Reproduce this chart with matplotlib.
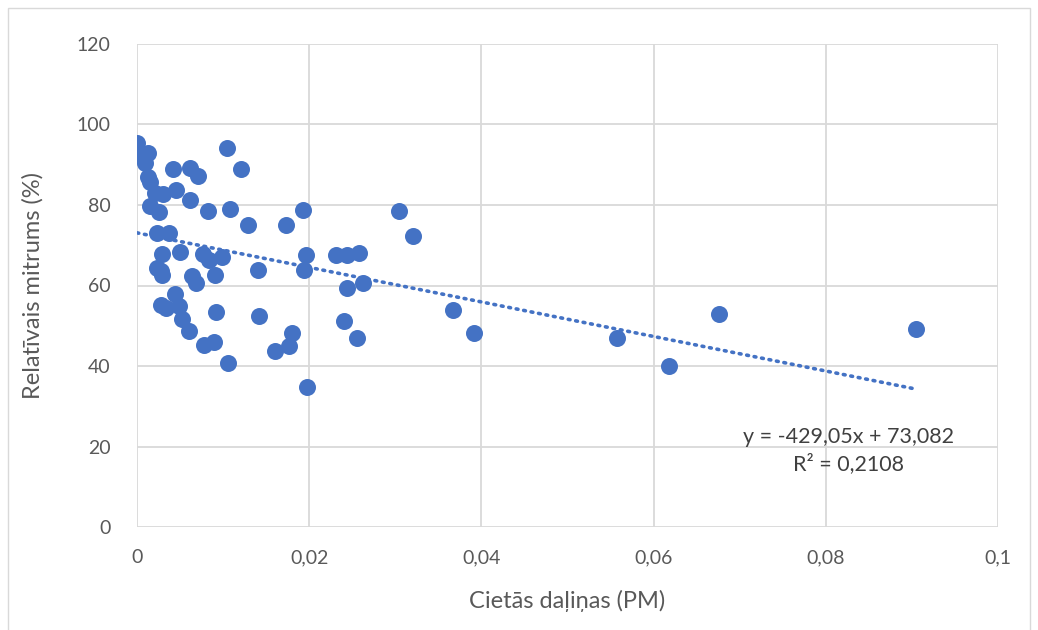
import numpy as np
import matplotlib.pyplot as plt
from matplotlib.ticker import FuncFormatter, MultipleLocator
from matplotlib.patches import Rectangle

plt.rcParams['font.family'] = ['Lato', 'DejaVu Sans']

# solid particles (PM) vs relative humidity (%)
pm = [0, 0, 0.0013, 0.0009, 0.0013, 0.0015, 0.0021, 0.003, 0.0015, 0.0025,
      0.0042, 0.0045, 0.0062, 0.0071, 0.0061, 0.0082, 0.0104, 0.0121, 0.0108, 0.0129,
      0.0173, 0.0193, 0.0304, 0.032, 0.0023, 0.0037, 0.0029, 0.005, 0.0077, 0.0084,
      0.0099, 0.0023, 0.0029, 0.0028, 0.0064, 0.0069, 0.0091, 0.0141, 0.0196, 0.0194,
      0.0231, 0.0244, 0.0258, 0.0263, 0.0244, 0.0044, 0.0028, 0.0034, 0.0049, 0.0052,
      0.006, 0.0092, 0.0142, 0.024, 0.0256, 0.018, 0.0176, 0.016, 0.009, 0.0078,
      0.0106, 0.0198, 0.0367, 0.0391, 0.0557, 0.0618, 0.0676, 0.0905]
rh = [95.4, 92.4, 92.8, 90.5, 87.0, 85.8, 83.0, 82.7, 79.8, 78.3,
      89.0, 83.8, 89.3, 87.2, 81.3, 78.6, 94.1, 89.0, 79.0, 75.0,
      75.0, 78.8, 78.5, 72.3, 73.0, 73.0, 67.8, 68.3, 67.9, 66.3,
      67.1, 64.3, 62.6, 63.5, 62.3, 60.6, 62.6, 63.8, 67.5, 63.8,
      67.5, 67.5, 68.1, 60.7, 59.4, 57.8, 55.1, 54.4, 54.9, 51.8,
      48.8, 53.3, 52.4, 51.1, 46.9, 48.2, 44.9, 43.8, 46.0, 45.3,
      40.8, 34.7, 53.9, 48.3, 46.9, 40.1, 52.8, 49.1]

# linear trend as reported on the chart
slope = -429.05
intercept = 73.082
r2 = 0.2108

blue = '#4472C4'
grey = '#595959'

fig = plt.figure(figsize=(10.38, 6.3), dpi=100)
fig.patches.append(Rectangle((8/1038, -0.01), 1022/1038, (622+6)/630, transform=fig.transFigure,
                             fill=False, edgecolor='#D9D9D9', lw=1))
ax = fig.add_axes([137/1038, (630-527)/630, (998-137)/1038, (527-44)/630])

ax.scatter(pm, rh, s=150, color=blue, zorder=3, linewidths=0)

xt = np.array([0, max(pm)])
ax.plot(xt, slope*xt + intercept, color=blue, lw=2.6, linestyle=(0, (0.5, 1.6)),
        dash_capstyle='round', zorder=2)

ax.set_xlim(0, 0.1)
ax.set_ylim(0, 120)
ax.xaxis.set_major_locator(MultipleLocator(0.02))
ax.yaxis.set_major_locator(MultipleLocator(20))
ax.xaxis.set_major_formatter(FuncFormatter(lambda v, p: f'{v:.2f}'.rstrip('0').rstrip('.').replace('.', ',')))
ax.grid(True, color='#D9D9D9', lw=1.3, zorder=0)
ax.set_axisbelow(True)
for s in ax.spines.values():
    s.set_visible(False)
ax.tick_params(axis='x', length=0, labelsize=14, colors=grey, pad=16)
ax.tick_params(axis='y', length=0, labelsize=14, colors=grey, pad=19)

ax.set_xlabel('Cietās daļiņas (PM)', fontsize=17, color=grey, labelpad=17)
ax.set_ylabel('Relatīvais mitrums (%)', fontsize=17, color=grey, labelpad=24)

eq = f'y = {slope:.2f}x + {intercept:.3f}'.replace('.', ',')
ax.text(0.0826, 22.4, eq, fontsize=15.5, color='#404040', ha='center', va='center')
ax.text(0.0826, 15.7, f'R² = {r2:.4f}'.replace('.', ','), fontsize=15.5, color='#404040',
        ha='center', va='center')

fig.savefig('out.png', dpi=100)
